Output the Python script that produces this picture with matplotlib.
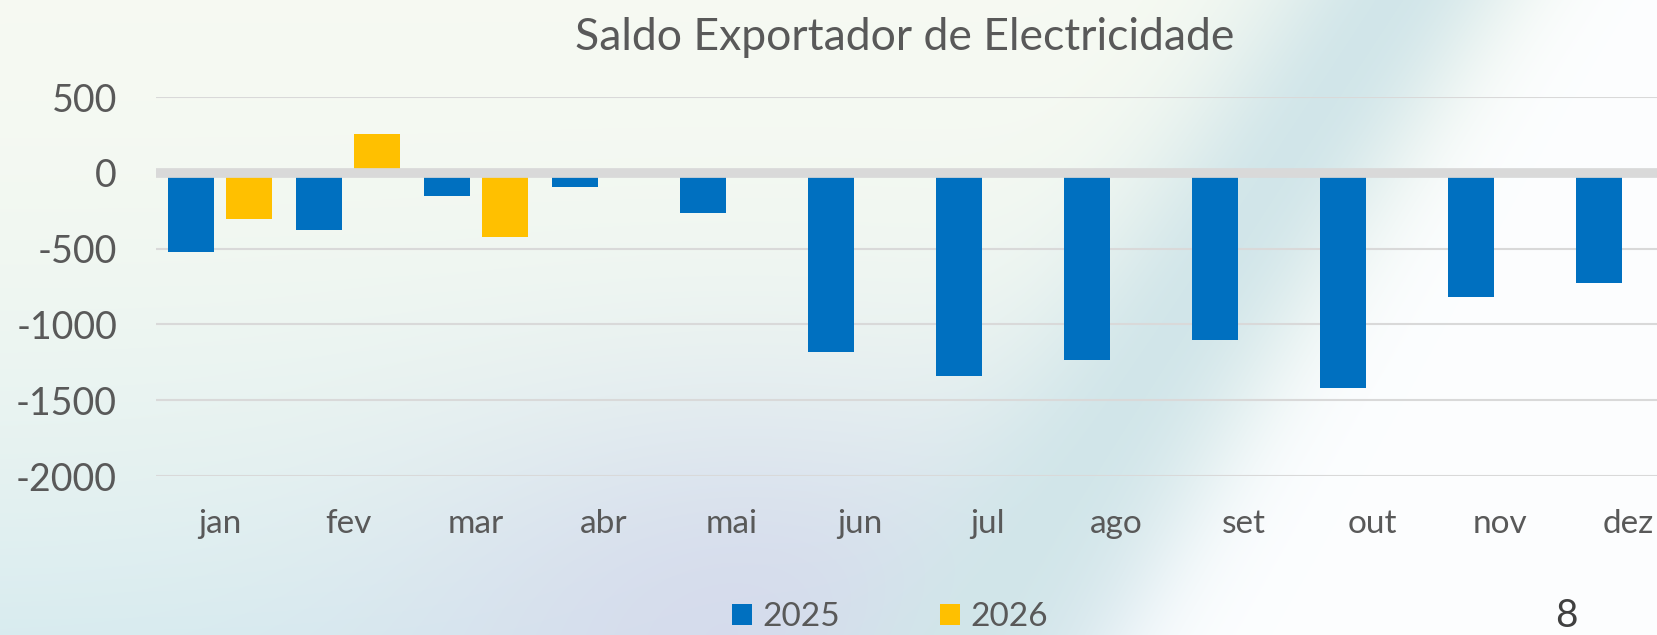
import numpy as np
import matplotlib
matplotlib.use("Agg")
import matplotlib.pyplot as plt

# dados
meses = ["jan", "fev", "mar", "abr", "mai", "jun", "jul", "ago", "set", "out", "nov", "dez"]
saldo_2025 = [-525, -380, -152, -92, -265, -1182, -1343, -1235, -1100, -1420, -820, -725]
saldo_2026 = [-305, 255, -423, None, None, None, None, None, None, None, None, None]
anos = ["2025", "2026"]
cores = ["#0070C0", "#FFC000"]

plt.rcParams['font.family'] = ['Lato', 'DejaVu Sans']
plt.rcParams['axes.unicode_minus'] = False
W, H = 1658, 635
fig = plt.figure(figsize=(W / 100, H / 100), dpi=100)

# fundo em degradê (imitação do slide)
u, v = np.meshgrid(np.linspace(0, 1, W), np.linspace(0, 1, H))
s = u + 0.25 * v
creme = np.array([0.965, 0.98, 0.95])
azul = np.array([0.85, 0.925, 0.94])
lilas = np.array([0.835, 0.85, 0.925])
teal = np.array([0.82, 0.90, 0.915])
branco = np.array([0.99, 0.995, 1.0])
w_baixo = np.clip(v, 0, 1) ** 1.8
w_lilas = np.exp(-((u - 0.45) ** 2 / 0.04 + (v - 1.0) ** 2 / 0.12))
esq = creme * (1 - w_baixo)[..., None] + azul * w_baixo[..., None]
esq = esq * (1 - 0.85 * w_lilas)[..., None] + lilas * (0.85 * w_lilas)[..., None]
w_teal = np.exp(-((s - 0.84) / 0.08) ** 2)
img = esq * (1 - w_teal)[..., None] + teal * w_teal[..., None]
w_branco = 1 / (1 + np.exp(-(s - 0.93) / 0.02))
img = img * (1 - w_branco)[..., None] + branco * w_branco[..., None]
ax_bg = fig.add_axes([0, 0, 1, 1])
ax_bg.imshow(np.clip(img, 0, 1), aspect="auto", extent=[0, 1, 0, 1])
ax_bg.axis("off")

ax = fig.add_axes([156 / W, 1 - 476 / H, 1536 / W, (476 - 97) / H])
ax.patch.set_alpha(0)
x = np.arange(len(meses))
largura = 0.36
v26 = [np.nan if val is None else val for val in saldo_2026]
ax.bar(x - 0.23, saldo_2025, largura, color=cores[0], label=anos[0], zorder=2)
ax.bar(x + 0.23, v26, largura, color=cores[1], label=anos[1], zorder=2)

ax.set_xlim(-0.5, 11.5)
ax.set_ylim(-2000, 500)
ax.set_yticks([500, 0, -500, -1000, -1500, -2000])
ax.grid(axis="y", color="#d9d9d9", linewidth=1.5, zorder=0)
ax.axhline(0, color="#d9d9d9", linewidth=7, zorder=3)
for sp in ax.spines.values():
    sp.set_visible(False)
ax.set_xticks(x)
ax.set_xticklabels(meses)
ax.tick_params(axis="y", length=0, pad=28, labelsize=27, labelcolor="#595959")
ax.tick_params(axis="x", length=0, pad=24, labelsize=24, labelcolor="#595959")

fig.text(905 / W, 1 - 38 / H, "Saldo Exportador de Electricidade", ha="center", va="center",
         fontsize=32, color="#595959")

leg = fig.legend(loc="center", bbox_to_anchor=(890 / W, 1 - 617 / H), ncol=2, frameon=False,
                 fontsize=24, handlelength=0.6, handleheight=0.6, handletextpad=0.3,
                 columnspacing=3.0, labelcolor="#595959")

fig.text(1566 / W, 1 - 598 / H, "8", ha="center", va="top", fontsize=28, color="#404040")

fig.savefig("out.png", dpi=100)
